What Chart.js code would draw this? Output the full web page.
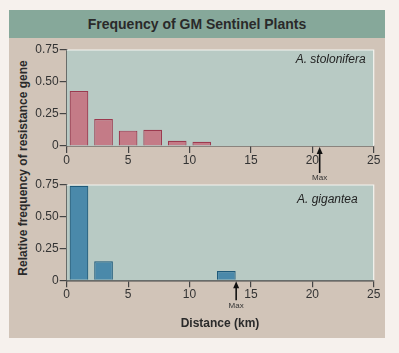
<!DOCTYPE html>
<html lang="en">
<head>
  <meta charset="UTF-8" />
  <title>Frequency of GM Sentinel Plants</title>
  <script src="https://cdn.jsdelivr.net/npm/chart.js"></script>
  <style>
    * { box-sizing: border-box; }

    body {
      margin: 0;
      width: 399px;
      height: 353px;
      background-color: #f6f1ed;
      font-family: 'Liberation Sans', Arial, sans-serif;
      color: #222;
      position: relative;
      overflow: hidden;
    }

    .panel {
      position: absolute;
      left: 9px;
      top: 10px;
      width: 376px;
      height: 328px;
      background-color: #d1c4b8;
    }

    header {
      position: absolute;
      left: 9px;
      top: 10px;
      width: 376px;
      height: 28px;
      line-height: 28px;
      background-color: #86a89a;
      text-align: center;
      font-size: 14px;
      font-weight: bold;
      color: #2a2a2a;
    }

    .chart-box {
      position: absolute;
      left: 30px;
      width: 360px;
      height: 140px;
    }

    #ytitle {
      position: absolute;
      left: 23px;
      top: 168px;
      transform: translate(-50%, -50%) rotate(-90deg);
      white-space: nowrap;
      font-size: 12px;
      font-weight: bold;
      color: #2a2a2a;
    }

    #xtitle {
      position: absolute;
      left: 220px;
      top: 323px;
      transform: translate(-50%, -50%);
      white-space: nowrap;
      font-size: 12px;
      font-weight: bold;
      color: #2a2a2a;
    }
  </style>
</head>
<body>
  <div class="panel"></div>
  <header>Frequency of GM Sentinel Plants</header>

  <div class="chart-box" style="top:40px"><canvas id="graficoStolonifera"></canvas></div>
  <div class="chart-box" style="top:170px"><canvas id="graficoGigantea"></canvas></div>

  <div id="ytitle">Relative frequency of resistance gene</div>
  <div id="xtitle">Distance (km)</div>

  <script>
    // Datos (distancia en km, frecuencia relativa)
    const especies = ["A. stolonifera", "A. gigantea"];
    const distStolonifera = [1, 3, 5, 7, 9, 11];
    const frecStolonifera = [0.43, 0.21, 0.12, 0.127, 0.041, 0.033];
    const distGigantea = [1, 3, 13];
    const frecGigantea = [0.744, 0.15, 0.073];
    const distanciaMax = [20.6, 13.8];
    const ticksY = [0, 0.25, 0.5, 0.75];
    const ticksX = [0, 5, 10, 15, 20, 25];

    // fondo del area del grafico, etiqueta de especie y flecha "Max"
    const decoracion = {
      id: 'decoracion',
      beforeDatasetsDraw(chart, args, opts) {
        const { ctx, chartArea: a } = chart;
        ctx.save();
        ctx.fillStyle = '#b8cac4';
        ctx.fillRect(a.left, a.top, a.right - a.left, a.bottom - a.top);
        ctx.strokeStyle = '#f4f4f0';
        ctx.lineWidth = 1.2;
        ctx.beginPath();
        ctx.moveTo(a.left, a.top);
        ctx.lineTo(a.right, a.top);
        ctx.lineTo(a.right, a.bottom);
        ctx.stroke();
        ctx.restore();
      },
      afterDraw(chart, args, opts) {
        const { ctx, chartArea: a, scales } = chart;
        ctx.save();
        ctx.font = 'italic 12px "Liberation Sans", Arial, sans-serif';
        ctx.fillStyle = '#222';
        ctx.textAlign = 'right';
        ctx.textBaseline = 'middle';
        ctx.fillText(opts.especie, a.right - 8 - opts.offsetTexto, a.top + 10 + opts.bajarTexto);

        const x = scales.x.getPixelForValue(opts.max);
        const y0 = a.bottom + 1;
        ctx.strokeStyle = '#111';
        ctx.fillStyle = '#111';
        ctx.lineWidth = 1.6;
        ctx.beginPath();
        ctx.moveTo(x, y0 + 5);
        ctx.lineTo(x, y0 + opts.largo);
        ctx.stroke();
        ctx.beginPath();
        ctx.moveTo(x, y0);
        ctx.lineTo(x - 3, y0 + 7);
        ctx.lineTo(x + 3, y0 + 7);
        ctx.closePath();
        ctx.fill();
        ctx.font = '8px "Liberation Sans", Arial, sans-serif';
        ctx.fillStyle = '#333';
        ctx.textAlign = 'center';
        ctx.textBaseline = 'top';
        ctx.fillText('Max', x, y0 + opts.largo + 1);
        ctx.restore();
      }
    };

    function crearGrafico(id, dist, frec, relleno, borde, i, cfg) {
      return new Chart(document.getElementById(id), {
        type: 'bar',
        data: {
          datasets: [{
            data: dist.map((d, k) => ({ x: d, y: frec[k] })),
            backgroundColor: relleno,
            borderColor: borde,
            borderWidth: 1.2,
            barPercentage: 0.76,
            categoryPercentage: 1
          }]
        },
        options: {
          responsive: false,
          animation: false,
          layout: { padding: { top: cfg.top, right: 16.3, left: 0, bottom: 0 } },
          scales: {
            x: {
              type: 'linear',
              min: 0,
              max: 25,
              offset: false,
              afterFit: s => { s.height = cfg.altoX; },
              afterBuildTicks: s => { s.ticks = ticksX.map(v => ({ value: v })); },
              grid: { offset: false, drawOnChartArea: false, tickLength: 7, color: '#444', lineWidth: 1.2 },
              border: { color: '#444', width: 1.6 },
              ticks: {
                color: '#333',
                padding: 0,
                maxRotation: 0,
                font: { family: "'Liberation Sans', Arial, sans-serif", size: 12 }
              }
            },
            y: {
              min: 0,
              max: 0.75,
              afterFit: s => { s.width = 36.7; },
              afterBuildTicks: s => { s.ticks = ticksY.map(v => ({ value: v })); },
              grid: { drawOnChartArea: false, tickLength: 7, color: '#444', lineWidth: 1.2 },
              border: { color: '#444', width: 1.6 },
              ticks: {
                color: '#333',
                padding: 1,
                callback: v => v === 0 ? '0' : v.toFixed(2),
                font: { family: "'Liberation Sans', Arial, sans-serif", size: 12 }
              }
            }
          },
          plugins: {
            legend: { display: false },
            tooltip: { enabled: false },
            decoracion: {
              especie: especies[i],
              max: distanciaMax[i],
              largo: cfg.largo,
              offsetTexto: cfg.offsetTexto,
              bajarTexto: cfg.bajarTexto
            }
          }
        },
        plugins: [decoracion]
      });
    }

    function prepararCanvas(id) {
      const c = document.getElementById(id);
      c.width = 360;
      c.height = 140;
    }
    prepararCanvas('graficoStolonifera');
    prepararCanvas('graficoGigantea');

    crearGrafico('graficoStolonifera', distStolonifera, frecStolonifera, '#c47b87', '#9c3a4f', 0,
      { top: 10, altoX: 34, largo: 26, offsetTexto: 0, bajarTexto: 0 });
    crearGrafico('graficoGigantea', distGigantea, frecGigantea, '#4a89aa', '#1e5a7a', 1,
      { top: 15, altoX: 29.7, largo: 19, offsetTexto: 8, bajarTexto: 5 });
  </script>
</body>
</html>
